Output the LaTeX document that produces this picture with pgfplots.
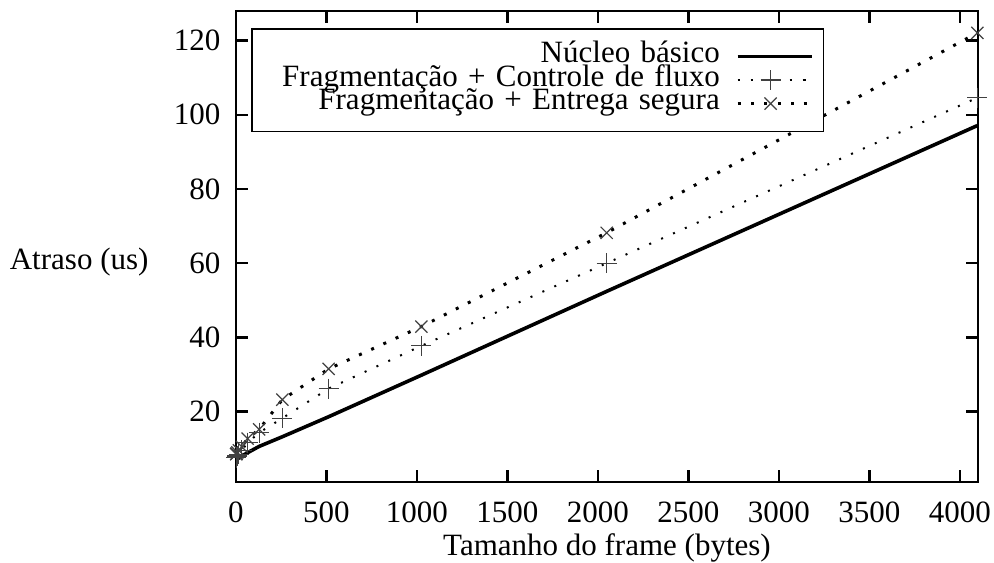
\documentclass[border=0pt]{standalone}
\usepackage{fontspec}
\setmainfont{Liberation Serif}
\usepackage{pgfplots}
\pgfplotsset{compat=1.18}
\begin{document}
\fontsize{15.5}{16}\selectfont
\begin{tikzpicture}
\begin{axis}[
  name=ax,
  scale only axis, width=371pt, height=235.5pt,
  xmin=0, xmax=4100, ymin=1, ymax=128,
  xtick={0,500,...,4000}, ytick={20,40,...,120},
  tick align=inside, major tick length=6pt,
  every axis/.append style={line width=1.2pt},
  every tick/.style={black, line width=1.2pt},
  /pgf/number format/assume math mode=true,
  /pgf/number format/1000 sep={},
  scaled x ticks=false,
  tick label style={font=\fontsize{15.5}{16}\selectfont},
  label style={font=\fontsize{15.5}{16}\selectfont},
  xticklabel style={yshift=-4pt},
  yticklabel style={xshift=-2pt},
  xlabel={Tamanho do frame (bytes)},
  xlabel style={yshift=5.5pt},
  ylabel={Atraso (us)},
  ylabel style={rotate=-90, at={(axis description cs:0,0.467)}, anchor=east, xshift=-38pt},
  clip=false,
  legend plot pos=right,
  legend cell align=right,
  legend image code/.code={\draw[mark repeat=2,mark phase=2,#1] plot coordinates {(0pt,0pt) (16.5pt,0pt) (33pt,0pt)}; \path (33pt,0pt) -- (37pt,0pt);},
  legend style={at={(rel axis cs:0,1)}, xshift=7.5pt, yshift=-8.5pt, anchor=north west,
    draw=black, line width=0.8pt, font=\fontsize{15.5}{16}\selectfont,
    inner xsep=5pt, inner ysep=8pt, row sep=0pt, column sep=6pt,
    nodes={inner ysep=0pt, text height=9pt, text depth=2.75pt}},
]
\addplot[black, line width=1.8pt] coordinates {
 (1,7.0) (2,7.0) (4,7.1) (8,7.2) (16,7.5) (32,8.0) (64,8.9) (128,10.6)
 (256,13.2) (512,18.6) (1024,29.8) (2048,52.4) (4096,97.1)};
\addlegendentry[text width=227pt, align=right]{Núcleo básico}
\addplot[black, line width=1pt, dash pattern=on 1pt off 5.5pt, mark=+, mark size=5pt,
  mark options={solid, black!75, line width=0.6pt}] coordinates {
 (1,7.6) (2,7.7) (4,7.8) (8,8.0) (16,8.5) (32,9.5) (64,11.6) (128,14.3)
 (256,18.2) (512,26.2) (1024,37.7) (2048,60.0) (4096,104.6)};
\addlegendentry[text width=227pt, align=right]{Fragmentação + Controle de fluxo}
\addplot[black, line width=1.5pt, dash pattern=on 1.5pt off 5.2pt, mark=x, mark size=4.3pt,
  mark options={solid, black!75, line width=0.6pt}] coordinates {
 (1,8.5) (2,8.6) (4,8.7) (8,9.0) (16,9.5) (32,10.5) (64,12.7) (128,15.2)
 (256,23.2) (512,31.5) (1024,42.9) (2048,68.2) (4096,122.1)};
\addlegendentry[text width=227pt, align=right]{Fragmentação + Entrega segura}
\end{axis}
\pgfresetboundingbox
\path ([xshift=-118pt, yshift=-40pt]ax.south west) rectangle ([xshift=8pt, yshift=5.5pt]ax.north east);
\end{tikzpicture}
\end{document}
